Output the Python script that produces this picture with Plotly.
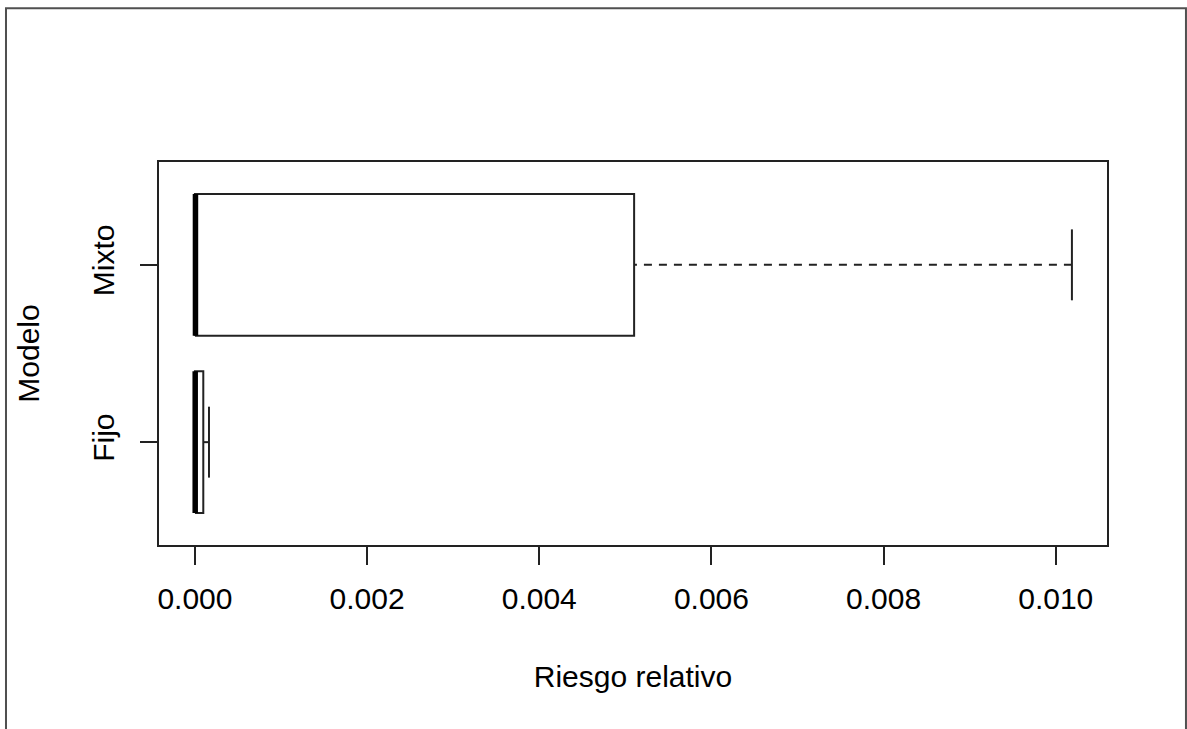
import plotly.graph_objects as go

# ---- data ----
modelos = ["Fijo", "Mixto"]
posiciones = [1, 2]
minimos = [0.0, 0.0]
q1 = [0.0, 0.0]
medianas = [0.000003, 0.000006]
q3 = [0.000097, 0.005102]
maximos = [0.000163, 0.010188]

x_ticks = [0.000, 0.002, 0.004, 0.006, 0.008, 0.010]

BOXW = 0.4   # half box width (R boxwex 0.8)
CAPW = 0.2   # half cap width
LINE = "#222222"
FONT = "Liberation Sans, Arial, sans-serif"

fig = go.Figure()

for i, nombre in enumerate(modelos):
    p = posiciones[i]
    # box outline
    fig.add_trace(go.Scatter(
        x=[q1[i], q3[i], q3[i], q1[i], q1[i]],
        y=[p - BOXW, p - BOXW, p + BOXW, p + BOXW, p - BOXW],
        mode="lines", line=dict(color=LINE, width=2),
        fill="toself", fillcolor="white", hoverinfo="skip", showlegend=False))
    # upper whisker (dashed), drawn from the whisker end back to the box
    fig.add_trace(go.Scatter(
        x=[maximos[i], q3[i]], y=[p, p], mode="lines",
        line=dict(color=LINE, width=2, dash="8px,7px"),
        hoverinfo="skip", showlegend=False))
    # lower whisker
    fig.add_trace(go.Scatter(
        x=[minimos[i], q1[i]], y=[p, p], mode="lines",
        line=dict(color=LINE, width=2, dash="8px,7px"),
        hoverinfo="skip", showlegend=False))
    # caps
    fig.add_trace(go.Scatter(
        x=[maximos[i], maximos[i]], y=[p - CAPW, p + CAPW], mode="lines",
        line=dict(color=LINE, width=2), hoverinfo="skip", showlegend=False))
    # median
    fig.add_trace(go.Scatter(
        x=[medianas[i], medianas[i]], y=[p - BOXW, p + BOXW], mode="lines",
        line=dict(color="black", width=5.5), hoverinfo="skip", showlegend=False))

lo, hi = 0.0, max(maximos)
ext = 0.04 * (hi - lo)

fig.update_layout(
    width=1187, height=729,
    margin=dict(l=159, r=80, t=162, b=184),
    paper_bgcolor="white", plot_bgcolor="white",
    font=dict(family=FONT, size=30, color="black"),
    showlegend=False,
    xaxis=dict(
        range=[lo - ext - 0.00001, hi + ext], tickvals=x_ticks,
        ticktext=[f"{v:.3f}" for v in x_ticks],
        showgrid=False, zeroline=False,
        showline=True, mirror=True, linecolor=LINE, linewidth=2,
        ticks="outside", ticklen=18, tickwidth=2, tickcolor=LINE,
        ticklabelstandoff=8,
        title=dict(text="Riesgo relativo", standoff=52,
                   font=dict(family=FONT, size=30)),
        automargin=False,
    ),
    yaxis=dict(
        range=[0.42, 2.58], tickvals=posiciones, ticktext=modelos,
        tickangle=-90,
        showgrid=False, zeroline=False,
        showline=True, mirror=True, linecolor=LINE, linewidth=2,
        ticks="outside", ticklen=17, tickwidth=2, tickcolor=LINE,
        ticklabelstandoff=14,
        title=dict(text="Modelo", standoff=39,
                   font=dict(family=FONT, size=30)),
        automargin=False,
    ),
)

# outer frame of the device window
fig.add_shape(type="rect", xref="paper", yref="paper",
              x0=-0.1614, x1=1.0833, y0=-0.7, y1=1.4013,
              line=dict(color="#505050", width=2), layer="below")

fig.write_html("out.html")
